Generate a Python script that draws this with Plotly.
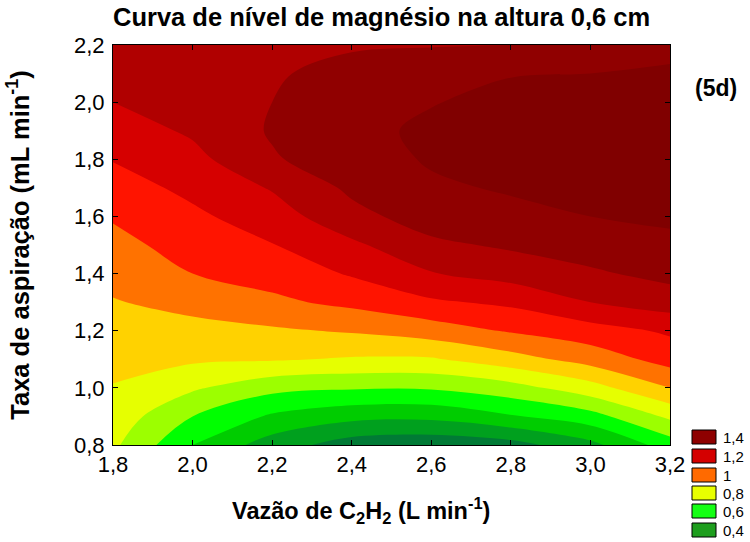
import plotly.graph_objects as go

# Grid (Statistica-style contour)
vazao_c2h2 = [1.8, 2.0, 2.2, 2.4, 2.6, 2.8, 3.0, 3.2]
taxa_aspiracao = [0.8, 0.9, 1.0, 1.1, 1.2, 1.3, 1.4, 1.5,
                  1.6, 1.7, 1.8, 1.9, 2.0, 2.1, 2.2]

# Mg response along each column (one list per Vazão value, bottom -> top)
mg_x18 = [0.72, 0.76, 0.795, 0.827, 0.86, 0.894, 0.93, 0.97, 1.01, 1.055, 1.105, 1.15, 1.20, 1.24, 1.27]
mg_x20 = [0.50, 0.60, 0.715, 0.816, 0.87, 0.93, 1.00, 1.04, 1.08, 1.125, 1.17, 1.215, 1.25, 1.27, 1.275]
mg_x22 = [0.35, 0.485, 0.63, 0.81, 0.886, 0.98, 1.04, 1.096, 1.152, 1.208, 1.29, 1.31, 1.30, 1.29, 1.275]
mg_x24 = [0.25, 0.43, 0.61, 0.79, 0.91, 1.025, 1.11, 1.18, 1.27, 1.32, 1.355, 1.37, 1.36, 1.33, 1.29]
mg_x26 = [0.23, 0.425, 0.61, 0.79, 0.95, 1.085, 1.195, 1.28, 1.345, 1.385, 1.41, 1.42, 1.395, 1.355, 1.295]
mg_x28 = [0.26, 0.49, 0.66, 0.86, 1.01, 1.12, 1.24, 1.315, 1.375, 1.41, 1.435, 1.445, 1.43, 1.395, 1.30]
mg_x30 = [0.37, 0.56, 0.76, 0.94, 1.06, 1.20, 1.285, 1.35, 1.40, 1.43, 1.45, 1.455, 1.44, 1.40, 1.33]
mg_x32 = [0.55, 0.72, 0.90, 1.04, 1.115, 1.25, 1.33, 1.38, 1.415, 1.44, 1.455, 1.46, 1.45, 1.415, 1.37]

columns = [mg_x18, mg_x20, mg_x22, mg_x24, mg_x26, mg_x28, mg_x30, mg_x32]
z_grid = [list(row) for row in zip(*columns)]   # rows = taxa, cols = vazão

# band colours, lowest (<0.3) to highest (>1.4)
BAND_COLORS = [
    "#007A35", "#00A01E", "#00CC00", "#00FF00", "#9CFF00", "#E6FF00",
    "#FFD200", "#FF7200", "#FF1400", "#D60000", "#B00000", "#900000",
    "#800000",
]

LEGEND_LABELS = ["1,4", "1,2", "1", "0,8", "0,6", "0,4"]
LEGEND_COLORS = ["#8E0000", "#D40000", "#FF6A00", "#E8FF00", "#14FF14", "#1E9E1E"]

FONT = "Arial, Liberation Sans, sans-serif"

n = len(BAND_COLORS) - 1
colorscale = [[i / n, c] for i, c in enumerate(BAND_COLORS)]

fig = go.Figure()
fig.add_trace(go.Contour(
    x=vazao_c2h2, y=taxa_aspiracao, z=z_grid,
    contours=dict(start=0.3, end=1.4, size=0.1, coloring="fill", showlines=False),
    colorscale=colorscale,
    showscale=False,
    line=dict(smoothing=1.0, width=0),
    hoverinfo="skip",
))

# plot area in pixels (from the reference)
L, R, T, B = 113, 670, 45, 445
W, H = 750, 542


def px_x(px):
    return (px - L) / (R - L)


def px_y(py):
    return (B - py) / (B - T)


# legend boxes
box_tops = [430, 449, 468, 486, 504, 523]
for lab, col, top in zip(LEGEND_LABELS, LEGEND_COLORS, box_tops):
    fig.add_shape(type="rect", xref="paper", yref="paper",
                  x0=px_x(692), x1=px_x(716), y0=px_y(top + 14), y1=px_y(top),
                  fillcolor=col, line=dict(color="black", width=1))
    fig.add_annotation(xref="paper", yref="paper", x=px_x(721), y=px_y(top + 7),
                       text=lab, showarrow=False, xanchor="left", yanchor="middle",
                       font=dict(family=FONT, size=15, color="black"))

fig.add_annotation(xref="paper", yref="paper", x=px_x(716), y=px_y(88),
                   text="<b>(5d)</b>", showarrow=False,
                   xanchor="center", yanchor="middle",
                   font=dict(family=FONT, size=23, color="black"))

# x-axis title sits left of the plot centre in the reference
fig.add_annotation(xref="paper", yref="paper", x=px_x(361), y=px_y(510),
                   text="<b>Vazão de C<sub>2</sub>H<sub>2</sub> (L min<sup>-1</sup>)</b>",
                   showarrow=False, xanchor="center", yanchor="middle",
                   font=dict(family=FONT, size=23.5, color="black"))

axis_common = dict(
    showline=True, linecolor="black", linewidth=1, mirror="ticks",
    ticks="inside", ticklen=5, tickcolor="black",
    showgrid=False, zeroline=False, tickformat=".1f", automargin=False,
    tickfont=dict(family=FONT, size=22, color="black"),
)

fig.update_layout(
    width=W, height=H,
    margin=dict(l=L, r=W - R, t=T, b=H - B),
    paper_bgcolor="white", plot_bgcolor="white",
    separators=", ",
    title=dict(text="<b>Curva de nível de magnésio na altura 0,6 cm</b>",
               x=L / W, xanchor="left", y=1 - 17 / H, yanchor="middle",
               font=dict(family=FONT, size=25.5, color="black")),
    xaxis=dict(range=[1.8, 3.2], dtick=0.2, tick0=1.8, **axis_common),
    yaxis=dict(range=[0.8, 2.2], dtick=0.2, tick0=0.8, ticklabelstandoff=3,
               title=dict(text="<b>Taxa de aspiração (mL min<sup>-1</sup>)</b>",
                          standoff=37, font=dict(family=FONT, size=25.5, color="black")),
               **axis_common),
    showlegend=False,
)

# drop the browser's default body margin so the figure sits at (0, 0)
fig.write_html("out.html", config={"displayModeBar": False},
               post_script="document.body.style.margin='0';")
